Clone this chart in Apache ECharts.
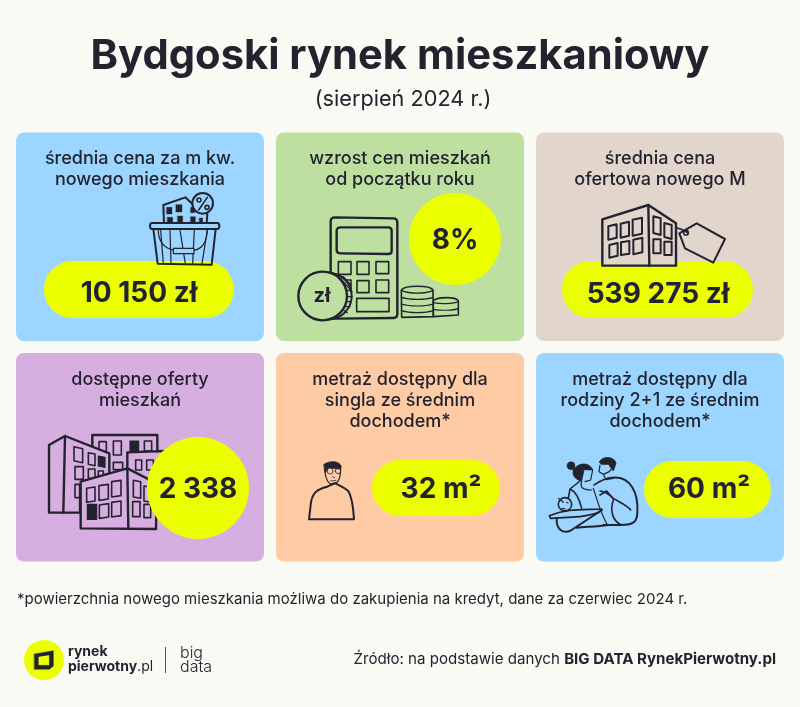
<!DOCTYPE html>
<html>
<head>
<meta charset="utf-8">
<style>html,body{margin:0;padding:0;background:#fafaf5}#main{width:800px;height:707px}</style>
<script src="https://cdn.jsdelivr.net/npm/echarts@6/dist/echarts.min.js"></script>
</head>
<body>
<div id="main"></div>
<script>
// dane z infografiki
const cardTitles = [
  ['średnia cena za m kw.', 'nowego mieszkania'],
  ['wzrost cen mieszkań', 'od początku roku'],
  ['średnia cena', 'ofertowa nowego M'],
  ['dostępne oferty', 'mieszkań'],
  ['metraż dostępny dla', 'singla ze średnim', 'dochodem*'],
  ['metraż dostępny dla', 'rodziny 2+1 ze średnim', 'dochodem*']
];
const cardValues = ['10 150 zł', '8%', '539 275 zł', '2 338', '32 m²', '60 m²'];
const cardColors = ['#9cd5ff', '#bde0a0', '#e2d6cc', '#d7aee0', '#fecba4', '#9cd5ff'];

const INK = '#23232f';
const LIME = '#ecff00';
const FONT = 'Inter, "Noto Sans", sans-serif';

// uklad kart i znacznikow wartosci
const cardBoxes = [
  [16, 132.5], [276, 132.5], [536, 132.5],
  [16, 353], [276, 353], [536, 353]
];
const badges = [
  { x: 44, y: 261, w: 190, h: 57, cx: 139, cy: 294 },
  { circle: true, x: 455, y: 239, r: 46, cx: 455, cy: 241 },
  { x: 562, y: 261, w: 191, h: 57, cx: 658, cy: 295 },
  { circle: true, x: 198, y: 488, r: 51, cx: 198, cy: 490 },
  { x: 372, y: 460, w: 128, h: 56, cx: 441, cy: 490 },
  { x: 644, y: 461, w: 127, h: 57, cx: 709, cy: 490 }
];

const els = [];

function text(x, y, str, size, weight, align, color) {
  els.push({
    type: 'text', z2: 20, x, y,
    style: { text: str, font: `${weight} ${size}px ${FONT}`, fill: color || INK,
      textAlign: align || 'center', textVerticalAlign: 'middle' }
  });
}

// ikony rysowane w ukladzie zoomu x3, stad skala 1/3
function icon(ox, oy, z2, parts) {
  parts.forEach(p => {
    els.push({
      type: 'path', z2, x: ox, y: oy, scaleX: 1 / 3, scaleY: 1 / 3,
      shape: { pathData: p.d },
      style: { fill: p.fill || 'none', stroke: INK, lineWidth: (p.lw || 6) * 1.2, lineJoin: 'round', lineCap: 'round' }
    });
  });
}
function box(x, y, w, h, skew) {
  const s = skew || 0;
  return `M${x} ${y - s}L${x + w} ${y + s}L${x + w} ${y + h + s}L${x} ${y + h - s}Z`;
}
function circ(cx, cy, r) {
  return `M${cx - r} ${cy}A${r} ${r} 0 1 1 ${cx + r} ${cy}A${r} ${r} 0 1 1 ${cx - r} ${cy}Z`;
}

// tlo kart
cardBoxes.forEach((b, i) => {
  els.push({
    type: 'rect', z2: 1,
    shape: { x: b[0], y: b[1], width: 248, height: 208.5, r: 8 },
    style: { fill: cardColors[i] }
  });
  const cx = b[0] + 124;
  const top = b[1] + (i > 2 ? 27 : 26);
  cardTitles[i].forEach((line, k) => text(cx, top + k * 20.6, line, 18, 500));
});

// znaczniki wartosci
badges.forEach((b, i) => {
  if (b.circle) {
    els.push({ type: 'circle', z2: 5, shape: { cx: b.x, cy: b.y, r: b.r }, style: { fill: LIME } });
  } else {
    els.push({ type: 'rect', z2: 5, shape: { x: b.x, y: b.y, width: b.w, height: b.h, r: b.h / 2 }, style: { fill: LIME } });
  }
  text(b.cx, b.cy, cardValues[i], 28, 700);
});

// koszyk
icon(0, 120, 4, [
  { d: 'M492 310L490 255L556 232L575 250L622 282L620 310', fill: cardColors[0], lw: 5 },
  { d: box(500, 262, 16, 20) + box(528, 254, 18, 22) + box(502, 292, 16, 16) + box(533, 288, 15, 20) + box(572, 262, 12, 16) + box(572, 290, 14, 18) + box(598, 294, 10, 14), fill: INK, lw: 1 },
  { d: circ(608, 250, 31), fill: cardColors[0], lw: 5 },
  { d: 'M622 232L596 270' + circ(597, 240, 6) + circ(621, 262, 6), lw: 4 }
]);
icon(0, 120, 6, [
  { d: 'M456 309L652 309Q658 309 658 318Q658 327 652 327L456 327Q450 327 450 318Q450 309 456 309Z', fill: cardColors[0], lw: 5 },
  { d: 'M460 327L473 431L635 434L647 327', lw: 5 },
  { d: 'M482 330L490 431M510 330L513 431M540 330L556 431M583 330L578 431M622 330L606 431', lw: 3 },
  { d: 'M475 330C475 370 495 385 522 391M622 330C620 365 610 385 580 392', lw: 3 },
  { d: box(520, 385, 62, 16), fill: cardColors[0], lw: 3 }
]);

// kalkulator i monety
icon(0, 120, 3, [
  { d: 'M1005 292L1180 295Q1192 295 1192 308L1192 582Q1192 594 1180 594L1010 596Q992 596 992 582L992 305Q992 292 1005 292Z', lw: 6 },
  { d: 'M1022 322L1165 322Q1175 322 1175 332L1175 392Q1175 402 1165 402L1022 400Q1010 400 1010 390L1010 332Q1010 322 1022 322Z', lw: 6 },
  { d: box(1015, 425, 38, 38) + box(1071, 425, 36, 38) + box(1128, 425, 38, 36) + box(1015, 480, 38, 38) + box(1071, 482, 36, 36) + box(1128, 480, 38, 38) + box(1070, 535, 97, 40), lw: 4 }
]);
icon(0, 120, 4, [
  { d: circ(985, 528, 70), fill: cardColors[1], lw: 5 },
  { d: 'M1015 468L1052 510M1030 470L1052 495M1040 530L1056 530M1040 545L1054 545M1036 560L1050 560M1032 572L1042 578M1042 510L1056 515', lw: 3 },
  { d: circ(968, 528, 73), fill: cardColors[1], lw: 6 }
]);
text(322, 296, 'zł', 20, 700);
icon(400, 120, 3, [
  { d: 'M4 510C15 495 90 495 99 510L100 590L5 592Z', lw: 4 },
  { d: 'M4 512C30 522 75 522 99 512M4 532C30 540 75 540 100 532M4 552C30 560 75 560 100 552M4 572C30 580 75 580 100 572', lw: 3 },
  { d: 'M100 542C115 530 165 530 175 542L175 585L100 590Z', lw: 4 },
  { d: 'M100 548C120 552 160 552 175 545M100 568C120 572 160 572 175 566', lw: 3 }
]);

// budynek z metka
icon(400, 120, 6, [
  { d: 'M838 340L890 310L975 357L940 428L855 385Z', lw: 5 },
  { d: circ(858, 338, 7) + 'M815 320C840 325 855 330 862 338', lw: 4 },
  { d: 'M607 298L745 255L828 310L828 437L607 437Z', fill: cardColors[2], lw: 6 },
  { d: 'M745 255L748 437', lw: 6 },
  { d: box(625, 316, 25, 40, -3) + box(662, 308, 25, 42, -3) + box(698, 296, 28, 48, -3) + box(628, 372, 25, 38, -3) + box(663, 365, 25, 38, -2) + box(700, 356, 27, 44, -3), lw: 5 },
  { d: box(760, 292, 22, 50, 3) + box(793, 312, 22, 42, 3) + box(760, 358, 22, 42) + box(793, 365, 22, 40), lw: 5 }
]);

// osiedle
icon(0, 345, 3, [
  { d: 'M277 305L277 270L472 270L472 320M382 322L490 318M382 322L382 372', lw: 6 },
  { d: box(297, 290, 22, 30) + box(340, 288, 24, 42) + box(433, 288, 22, 30) + box(407, 345, 18, 30) + box(440, 345, 20, 30) + box(340, 352, 28, 22), lw: 4 },
  { d: box(390, 288, 26, 32), fill: INK, lw: 3 },
  { d: 'M147 300L147 503L240 503L240 420L328 385L328 325L195 273L147 300Z', fill: cardColors[3], lw: 6 },
  { d: 'M195 273L190 503', lw: 6 },
  { d: box(222, 308, 26, 42, 3) + box(265, 325, 20, 35, 2) + box(225, 365, 25, 38) + box(265, 372, 20, 28) + box(295, 378, 15, 20) + box(225, 418, 18, 40), lw: 4 },
  { d: box(295, 335, 20, 30, 2), fill: INK, lw: 3 }
]);
icon(0, 345, 4, [
  { d: 'M242 410L382 370L470 415L468 552L242 550Z', fill: cardColors[3], lw: 6 },
  { d: 'M382 370L385 550', lw: 6 },
  { d: box(260, 428, 25, 42, -2) + box(297, 420, 28, 44, -2) + box(335, 408, 28, 46, -2) + box(298, 478, 28, 40, -2) + box(335, 470, 28, 44, -2), lw: 4 },
  { d: box(262, 478, 28, 45), fill: INK, lw: 3 },
  { d: box(400, 408, 22, 50, 2) + box(432, 425, 20, 45, 2) + box(398, 470, 22, 45) + box(432, 478, 20, 40), lw: 4 }
]);

// singiel
icon(0, 345, 6, [
  { d: 'M927 523L1062 523C1060 490 1055 455 1045 438C1030 425 1012 420 1005 414L982 425C950 432 935 445 932 480Z', lw: 5 },
  { d: 'M975 375C975 400 985 420 1000 418C1018 415 1022 395 1022 370', lw: 3 },
  { d: 'M972 358C990 345 1020 348 1024 365L1020 372L985 368L975 382Z', fill: INK, lw: 2 },
  { d: circ(990, 378, 9) + circ(1014, 378, 8) + 'M998 395L1004 398M992 408L1008 406', lw: 2 }
]);

// rodzina
icon(400, 345, 6, [
  { d: 'M640 398C690 395 716 440 712 505C710 535 695 540 660 540L610 540', lw: 5 },
  { d: 'M582 420C600 408 620 396 640 398M600 438C615 440 625 445 640 460C655 470 680 480 692 495', lw: 4 },
  { d: 'M640 465C628 500 640 530 665 540M600 450L620 438L640 462', lw: 4 },
  { d: 'M600 360L597 380L610 388L628 380L635 370M610 388L618 404L640 400', lw: 3 },
  { d: 'M598 350C610 330 645 335 648 355L640 378L625 358L605 358Z', fill: INK, lw: 2 },
  { d: circ(513, 362, 12), fill: INK, lw: 1 },
  { d: 'M520 375C535 350 570 352 578 375L552 374L545 408C530 405 515 395 520 375Z', fill: INK, lw: 2 },
  { d: 'M578 375L572 405L555 410M545 410C540 425 545 435 575 435M580 430C590 460 600 500 622 540', lw: 3 },
  { d: 'M540 408L510 432C530 440 540 470 545 490M510 432L505 460', lw: 4 },
  { d: 'M448 512C500 490 550 495 605 492C600 510 560 510 540 515L452 520Z', lw: 4 },
  { d: circ(495, 478, 20), lw: 4 },
  { d: 'M475 460L490 472M486 490L496 492M500 472L504 474', lw: 3 },
  { d: 'M470 520C468 555 490 565 510 558L606 495M530 548C560 545 590 545 625 540', lw: 5 }
]);

// naglowek
text(400, 56, 'Bydgoski rynek mieszkaniowy', 41.7, 700);
text(403, 99, '(sierpień 2024 r.)', 21.7, 400);

// stopka
text(17, 599, '*powierzchnia nowego mieszkania możliwa do zakupienia na kredyt, dane za czerwiec 2024 r.', 15, 400, 'left');
els.push({
  type: 'text', z2: 20, x: 776, y: 659,
  style: {
    text: '{a|Źródło: na podstawie danych }{b|BIG DATA RynekPierwotny.pl}',
    textAlign: 'right', textVerticalAlign: 'middle',
    rich: {
      a: { font: `400 15.1px ${FONT}`, fill: INK },
      b: { font: `700 15.1px ${FONT}`, fill: INK }
    }
  }
});

// logo
els.push({ type: 'circle', z2: 5, shape: { cx: 44, cy: 660, r: 20 }, style: { fill: LIME } });
icon(0, 620, 6, [
  { d: 'M103 102L160 92L160 138L148 148L103 148ZM115 110L115 136L148 136L148 105Z', fill: INK, lw: 1 }
]);
text(68, 652, 'rynek', 14, 700, 'left');
els.push({
  type: 'text', z2: 20, x: 68, y: 667,
  style: {
    text: '{a|pierwotny}{b|.pl}', textVerticalAlign: 'middle',
    rich: {
      a: { font: `700 14px ${FONT}`, fill: INK },
      b: { font: `400 14px ${FONT}`, fill: INK }
    }
  }
});
els.push({ type: 'line', z2: 5, shape: { x1: 165.5, y1: 647, x2: 165.5, y2: 673 }, style: { stroke: '#55555f', lineWidth: 1 } });
text(180, 653, 'big', 16, 300, 'left');
text(180, 667, 'data', 16, 300, 'left');

const chart = echarts.init(document.getElementById('main'));
chart.setOption({
  backgroundColor: '#fafaf5',
  animation: false,
  series: [{
    type: 'custom',
    coordinateSystem: 'none',
    silent: true,
    data: [cardValues[0]],
    renderItem: () => ({ type: 'group', children: els })
  }]
});
</script>
</body>
</html>
